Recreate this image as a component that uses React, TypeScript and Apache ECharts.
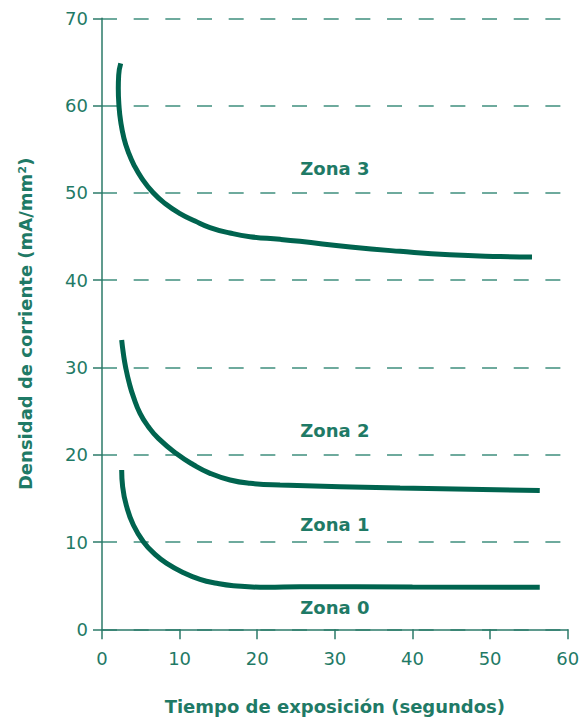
import React, { useEffect, useRef } from "react";
import * as echarts from "echarts";

// ---- Data ----
const xTicks = [0, 10, 20, 30, 40, 50, 60];
const yTicks = [0, 10, 20, 30, 40, 50, 60, 70];

const zone3X = [2.41, 2.15, 2.1, 2.19, 2.41, 2.83, 3.39, 4.12, 5.15, 6.57, 8.12, 10.05, 11.98, 13.91, 16.49, 19.07, 22.93, 25.5, 32, 38.4, 44.8, 51.3, 55.4];
const zone3Y = [64.84, 63.5, 61.98, 59.95, 58.15, 56.25, 54.68, 53.19, 51.64, 50.04, 48.78, 47.63, 46.78, 46.03, 45.4, 44.98, 44.68, 44.45, 43.8, 43.3, 42.9, 42.7, 42.65];

const zone2X = [2.535, 2.75, 3.05, 3.52, 4.04, 4.9, 5.98, 7.26, 9.62, 11.77, 13.92, 16.5, 19.07, 22.94, 38.4, 56.4];
const zone2Y = [33.14, 31.6, 30.0, 28.17, 26.65, 24.74, 23.21, 21.87, 20.1, 18.85, 17.87, 17.1, 16.72, 16.53, 16.2, 15.9];

const zone1X = [2.535, 2.66, 3.18, 4.04, 5.33, 6.84, 8.34, 10.5, 12.63, 14.78, 16.93, 21.22, 25.5, 40, 56.4];
const zone1Y = [18.25, 16.34, 14.05, 11.95, 10.04, 8.59, 7.56, 6.49, 5.72, 5.27, 5.0, 4.81, 4.88, 4.85, 4.82];

const zoneNames = ["Zona 3", "Zona 2", "Zona 1", "Zona 0"];
const zoneLabelX = [30, 30, 30, 30];
const zoneLabelY = [52.8, 22.8, 12.0, 2.5];

const xTitle = "Tiempo de exposición (segundos)";
const yTitle = "Densidad de corriente (mA/mm²)";

// ---- Styles ----
const CURVE = "#00644f";
const TEXT = "#1f7a66";
const AXIS = "#2b7a69";
const GRID = "#3f8f7e";
const FONT = "DejaVu Sans";

const pairs = (xs: number[], ys: number[]) => xs.map((x, i) => [x, ys[i]]);

export default function App() {
  const ref = useRef<HTMLDivElement>(null);
  useEffect(() => {
    if (!ref.current) return;
    const chart = echarts.init(ref.current, undefined, { renderer: "svg" });
    const curve = (name: string, data: number[][]) => ({
      name,
      type: "line",
      data,
      smooth: 0.5,
      symbol: "none",
      lineStyle: { color: CURVE, width: 5, cap: "butt" },
      z: 3,
    });
    chart.setOption({
      animation: false,
      backgroundColor: "#ffffff",
      grid: {
        left: 102,
        right: 16.3,
        top: 18.3,
        bottom: 89.7,
        containLabel: false,
        outerBoundsMode: "none",
      },
      xAxis: {
        type: "value",
        min: xTicks[0],
        max: xTicks[xTicks.length - 1],
        interval: 10,
        axisLine: { show: true, lineStyle: { color: AXIS, width: 1.5 } },
        axisTick: { show: true, length: 10, lineStyle: { color: AXIS, width: 1.5 } },
        axisLabel: { color: TEXT, fontSize: 18, fontFamily: FONT, margin: 20 },
        splitLine: { show: false },
        name: xTitle,
        nameLocation: "middle",
        nameGap: 68,
        nameTextStyle: { color: TEXT, fontSize: 18, fontWeight: "bold", fontFamily: FONT },
      },
      yAxis: {
        type: "value",
        min: yTicks[0],
        max: yTicks[yTicks.length - 1],
        interval: 10,
        axisLine: { show: true, lineStyle: { color: AXIS, width: 1.5 } },
        axisTick: { show: true, length: 9, lineStyle: { color: AXIS, width: 1.5 } },
        axisLabel: { color: TEXT, fontSize: 18, fontFamily: FONT, margin: 14 },
        splitLine: {
          show: true,
          lineStyle: { color: GRID, width: 1.5, type: [15, 16.67], dashOffset: 0.33 },
        },
        name: yTitle,
        nameLocation: "middle",
        nameGap: 68,
        nameTextStyle: { color: TEXT, fontSize: 18, fontWeight: "bold", fontFamily: FONT },
      },
      series: [
        curve("Zona 3", pairs(zone3X, zone3Y)),
        curve("Zona 2", pairs(zone2X, zone2Y)),
        curve("Zona 1", pairs(zone1X, zone1Y)),
        {
          name: "labels",
          type: "scatter",
          symbolSize: 0,
          itemStyle: { opacity: 1 },
          data: zoneNames.map((n, i) => ({ name: n, value: [zoneLabelX[i], zoneLabelY[i]] })),
          label: {
            show: true,
            position: "inside",
            formatter: (p: any) => p.name,
            color: TEXT,
            opacity: 1,
            fontSize: 18,
            fontWeight: "bold",
            fontFamily: FONT,
          },
          z: 4,
        },
      ],
    });
    return () => chart.dispose();
  }, []);
  return (
    <div
      ref={ref}
      style={{ position: "fixed", left: 0, top: 0, width: 584, height: 719, background: "#fff" }}
    />
  );
}
